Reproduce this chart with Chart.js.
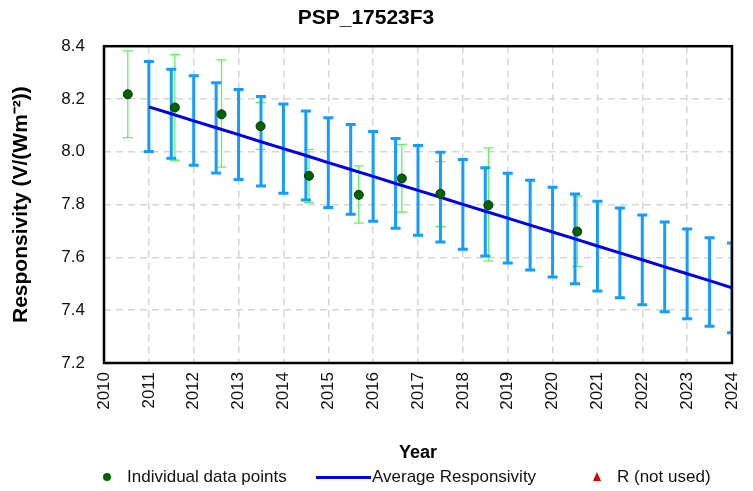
<!DOCTYPE html>
<html>
<head>
<meta charset="utf-8">
<script src="https://cdn.jsdelivr.net/npm/chart.js@4.4.1/dist/chart.umd.min.js"></script>
<style>
  html, body { margin: 0; padding: 0; background: #fff; }
  #wrap { position: relative; width: 753px; height: 491px; }
  .lg { position: absolute; top: 467px; font: 17px "Liberation Sans", Arial, sans-serif; line-height: 20px; color: #111; white-space: nowrap; }
  .mk { position: absolute; }
</style>
</head>
<body>
<div id="wrap">
  <canvas id="chart" width="753" height="491"></canvas>
  <span class="mk" style="left:103px;top:473px;width:8px;height:8px;border-radius:50%;background:#006400;"></span>
  <span class="lg" style="left:127px;">Individual data points</span>
  <span class="mk" style="left:316px;top:476px;width:55px;height:3px;background:#0000ee;"></span>
  <span class="lg" style="left:372px;">Average Responsivity</span>
  <span class="mk" style="left:593px;top:472px;width:0;height:0;border-left:4px solid transparent;border-right:4px solid transparent;border-bottom:9px solid #dd0000;"></span>
  <span class="lg" style="left:617px;">R (not used)</span>
</div>
<script>
// individual measurements (year, responsivity, error bar ends)
const pointYears = [2010.53, 2011.58, 2012.62, 2013.49, 2014.57, 2015.68, 2016.64, 2017.50, 2018.57, 2020.55];
const pointValues = [8.218, 8.168, 8.142, 8.097, 7.909, 7.837, 7.899, 7.841, 7.798, 7.698];
const pointHigh = [8.382, 8.368, 8.348, 8.187, 8.009, 7.947, 8.028, 7.963, 8.015, 7.832];
const pointLow = [8.054, 7.968, 7.942, 8.009, 7.808, 7.730, 7.772, 7.717, 7.586, 7.566];

// average responsivity line with its error bars
const avgYears = [2011, 2011.5, 2012, 2012.5, 2013, 2013.5, 2014, 2014.5, 2015, 2015.5, 2016, 2016.5, 2017, 2017.5,
  2018, 2018.5, 2019, 2019.5, 2020, 2020.5, 2021, 2021.5, 2022, 2022.5, 2023, 2023.5, 2024];
const avgValues = [8.170, 8.144, 8.117, 8.091, 8.065, 8.038, 8.012, 7.986, 7.959, 7.933, 7.907, 7.880, 7.854, 7.828,
  7.801, 7.775, 7.749, 7.722, 7.696, 7.670, 7.643, 7.617, 7.591, 7.564, 7.538, 7.512, 7.485];
const avgHigh = [8.342, 8.313, 8.288, 8.262, 8.236, 8.209, 8.181, 8.155, 8.129, 8.103, 8.077, 8.050, 8.024, 7.998,
  7.971, 7.940, 7.919, 7.892, 7.866, 7.840, 7.813, 7.787, 7.761, 7.734, 7.708, 7.674, 7.655];
const avgLow = [8.001, 7.976, 7.949, 7.920, 7.895, 7.870, 7.843, 7.817, 7.789, 7.763, 7.737, 7.710, 7.684, 7.658,
  7.631, 7.605, 7.579, 7.552, 7.526, 7.500, 7.473, 7.447, 7.421, 7.394, 7.368, 7.339, 7.315];

const xTicks = [2010, 2011, 2012, 2013, 2014, 2015, 2016, 2017, 2018, 2019, 2020, 2021, 2022, 2023, 2024];
const yTicks = [7.2, 7.4, 7.6, 7.8, 8.0, 8.2, 8.4];

const FONT = '"Liberation Sans", Arial, sans-serif';

// error bars drawn through the chart scales
const errorBars = {
  id: 'errorBars',
  beforeDatasetsDraw(chart) {
    const ctx = chart.ctx;
    const xs = chart.scales.x, ys = chart.scales.y;
    const draw = (years, hi, lo, color, width, cap) => {
      ctx.save();
      ctx.strokeStyle = color;
      ctx.lineWidth = width;
      for (let i = 0; i < years.length; i++) {
        const x = xs.getPixelForValue(years[i]);
        const y1 = ys.getPixelForValue(hi[i]);
        const y2 = ys.getPixelForValue(lo[i]);
        ctx.beginPath();
        ctx.moveTo(x, y1); ctx.lineTo(x, y2);
        ctx.moveTo(x - cap, y1); ctx.lineTo(x + cap, y1);
        ctx.moveTo(x - cap, y2); ctx.lineTo(x + cap, y2);
        ctx.stroke();
      }
      ctx.restore();
    };
    const a = chart.chartArea;
    ctx.save();
    ctx.beginPath();
    ctx.rect(a.left, a.top - 6, a.right - a.left + 1, a.bottom - a.top + 12);
    ctx.clip();
    draw(pointYears, pointHigh, pointLow, '#5cf55c', 1.3, 5);
    draw(avgYears, avgHigh, avgLow, '#139dff', 3, 5);
    ctx.restore();
  },
  afterDraw(chart) {
    const a = chart.chartArea;
    const ctx = chart.ctx;
    ctx.save();
    ctx.strokeStyle = '#000';
    ctx.lineWidth = 2.5;
    ctx.strokeRect(a.left, a.top, a.right - a.left, a.bottom - a.top);
    ctx.restore();
  }
};

new Chart(document.getElementById('chart'), {
  type: 'scatter',
  data: {
    datasets: [
      {
        label: 'Individual data points',
        data: pointYears.map((x, i) => ({ x: x, y: pointValues[i] })),
        backgroundColor: '#006400',
        borderColor: '#003300',
        borderWidth: 1,
        pointRadius: 4.5,
        order: 1
      },
      {
        label: 'Average Responsivity',
        type: 'line',
        data: avgYears.map((x, i) => ({ x: x, y: avgValues[i] })),
        borderColor: '#0000ee',
        borderWidth: 3,
        pointRadius: 0,
        fill: false,
        order: 2
      }
    ]
  },
  options: {
    responsive: false,
    animation: false,
    layout: { padding: { left: 0, right: 21, top: 0, bottom: 25 } },
    plugins: {
      legend: { display: false },
      tooltip: { enabled: false },
      title: {
        display: true,
        text: 'PSP_17523F3',
        color: '#000',
        font: { family: FONT, size: 21, weight: 'bold' },
        padding: { top: 6, bottom: 15 }
      }
    },
    scales: {
      x: {
        type: 'linear',
        min: 2010,
        max: 2024,
        afterFit(scale) {
          scale.height = 103;
          scale.paddingLeft = 0;
          scale.paddingRight = 0;
        },
        afterBuildTicks(scale) { scale.ticks = xTicks.map(v => ({ value: v })); },
        ticks: {
          color: '#111',
          font: { family: FONT, size: 17 },
          minRotation: 90,
          maxRotation: 90,
          padding: 9,
          callback: v => String(v)
        },
        grid: { color: '#d6d6d6', lineWidth: 1.5, drawTicks: false },
        border: { display: false, dash: [7, 5] },
        title: {
          display: true,
          text: 'Year',
          color: '#000',
          font: { family: FONT, size: 18, weight: 'bold' },
          padding: { top: 0, bottom: 2 }
        }
      },
      y: {
        min: 7.2,
        max: 8.4,
        afterFit(scale) { scale.width = 104; },
        afterBuildTicks(scale) { scale.ticks = yTicks.map(v => ({ value: v })); },
        ticks: {
          color: '#111',
          font: { family: FONT, size: 17 },
          padding: 19,
          callback: v => v.toFixed(1)
        },
        grid: { color: '#d6d6d6', lineWidth: 1.5, drawTicks: false },
        border: { display: false, dash: [7, 5] },
        title: {
          display: true,
          text: 'Responsivity (V/(Wm\u207B\u00B2))',
          color: '#000',
          font: { family: FONT, size: 21, weight: 'bold' },
          padding: { top: 9, bottom: 0 }
        }
      }
    }
  },
  plugins: [errorBars]
});
</script>
</body>
</html>
